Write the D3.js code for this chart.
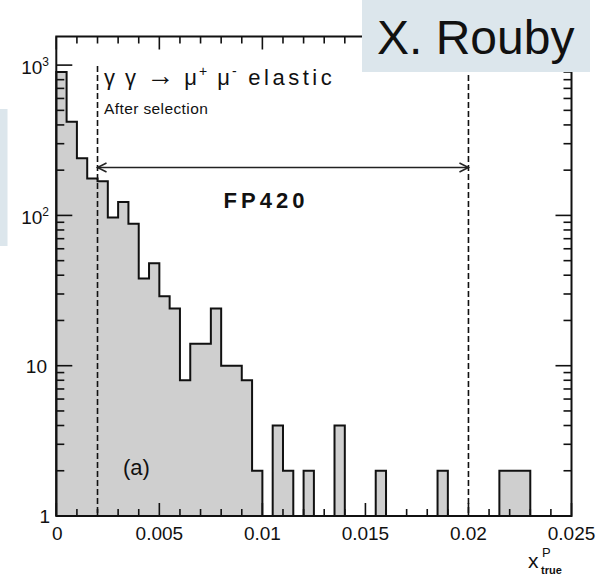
<!DOCTYPE html>
<html>
<head>
<meta charset="utf-8">
<script src="https://cdn.jsdelivr.net/npm/d3@7"></script>
<style>
  html, body { margin: 0; padding: 0; background: #fff; }
  svg { display: block; font-family: "Liberation Sans", Arial, sans-serif; }
</style>
</head>
<body>
<svg id="chart" width="603" height="577"></svg>
<script>
// Histogram of x_true^P, 50 bins of width 0.0005 on [0, 0.025]
const binWidth = 0.0005;
const binCounts = [
  900, 420, 240, 176, 169, 97, 123, 88, 38, 48,
  29, 24, 8, 14, 14, 24, 10, 10, 8, 2,
  0, 4, 2, 0, 2, 0, 0, 4, 0, 0,
  0, 2, 0, 0, 0, 0, 0, 2, 0, 0,
  0, 0, 0, 2, 2, 2, 0, 0, 0, 0
];
const xMajorTicks = [0, 0.005, 0.01, 0.015, 0.02, 0.025];
const xTickLabels = ["0", "0.005", "0.01", "0.015", "0.02", "0.025"];
const yMajorTicks = [1, 10, 100, 1000];
const yTickLabels = [["1", ""], ["10", ""], ["10", "2"], ["10", "3"]];
const selectionWindow = [0.002, 0.02];

const svg = d3.select("#chart");
const plotL = 56.3, plotR = 571.5, plotT = 36.5, plotB = 516;

const x = d3.scaleLinear().domain([0, 0.025]).range([plotL, plotR]);
const y = d3.scaleLog().domain([1, 1550]).range([plotB, plotT]);

// minor ticks
const xMinor = d3.range(0, 26).map(i => i * 0.001).filter(v => !xMajorTicks.some(m => Math.abs(m - v) < 1e-9));
const yMinor = [];
[1, 10, 100, 1000].forEach(d => { for (let k = 2; k <= 9; k++) if (d * k < 1550) yMinor.push(d * k); });

// histogram outline and fill
const pts = [[x(0), plotB]];
binCounts.forEach((c, i) => {
  const yy = c > 0 ? y(c) : plotB;
  pts.push([x(i * binWidth), yy], [x((i + 1) * binWidth), yy]);
});
pts.push([x(binCounts.length * binWidth), plotB]);
const line = d3.line();
svg.append("path").attr("d", line(pts) + "Z").attr("fill", "#cfcfcf").attr("stroke", "none");
svg.append("path").attr("d", line(pts)).attr("fill", "none").attr("stroke", "#111").attr("stroke-width", 2).attr("stroke-linejoin", "miter");

// selection window (dashed)
selectionWindow.forEach(v => {
  svg.append("line").attr("x1", x(v)).attr("x2", x(v)).attr("y1", 66).attr("y2", plotB)
    .attr("stroke", "#111").attr("stroke-width", 1.6).attr("stroke-dasharray", "6,3");
});

// double arrow between the window edges
const ay = 167.5;
const g = svg.append("g").attr("stroke", "#222").attr("stroke-width", 1.5).attr("fill", "none");
g.append("line").attr("x1", x(selectionWindow[0])).attr("x2", x(selectionWindow[1])).attr("y1", ay).attr("y2", ay);
g.append("path").attr("d", `M${x(selectionWindow[0]) + 9},${ay - 4.5}L${x(selectionWindow[0])},${ay}L${x(selectionWindow[0]) + 9},${ay + 4.5}`);
g.append("path").attr("d", `M${x(selectionWindow[1]) - 9},${ay - 4.5}L${x(selectionWindow[1])},${ay}L${x(selectionWindow[1]) - 9},${ay + 4.5}`);

// axes: ticks pointing inward
const axG = svg.append("g").attr("stroke", "#111").attr("stroke-width", 1.6);
function xTicks(vals, len) {
  vals.forEach(v => {
    axG.append("line").attr("x1", x(v)).attr("x2", x(v)).attr("y1", plotB).attr("y2", plotB - len);
    axG.append("line").attr("x1", x(v)).attr("x2", x(v)).attr("y1", plotT).attr("y2", plotT + len);
  });
}
function yTicks(vals, len) {
  vals.forEach(v => {
    axG.append("line").attr("x1", plotL).attr("x2", plotL + len).attr("y1", y(v)).attr("y2", y(v));
    axG.append("line").attr("x1", plotR).attr("x2", plotR - len).attr("y1", y(v)).attr("y2", y(v));
  });
}
xTicks(xMinor, 7);
xTicks(xMajorTicks, 13);
yTicks(yMinor, 8);
yTicks(yMajorTicks, 16);
svg.append("rect").attr("x", plotL).attr("y", plotT).attr("width", plotR - plotL).attr("height", plotB - plotT)
  .attr("fill", "none").attr("stroke", "#111").attr("stroke-width", 2);

// tick labels
xMajorTicks.forEach((v, i) => {
  svg.append("text").attr("x", x(v) + (i === 0 ? 1 : 0)).attr("y", 540).attr("text-anchor", "middle")
    .attr("font-size", 19).attr("fill", "#111").text(xTickLabels[i]);
});
yMajorTicks.forEach((v, i) => {
  const [base, exp] = yTickLabels[i];
  const t = svg.append("text").attr("y", y(v) + 7 + (exp ? 2 : 0)).attr("font-size", 19).attr("fill", "#111")
    .attr("text-anchor", "end").attr("x", exp ? 49 : (base === "1" ? 50 : 47));
  t.append("tspan").text(base);
  if (exp) t.append("tspan").attr("dy", -8).attr("font-size", 12).text(exp);
});

// axis title x^P_true
const xt = svg.append("text").attr("x", 528).attr("y", 568).attr("font-size", 21).attr("fill", "#111");
xt.append("tspan").text("x");
xt.append("tspan").attr("x", 542).attr("y", 557).attr("font-size", 13).text("P");
xt.append("tspan").attr("x", 541).attr("y", 574).attr("font-size", 11).attr("font-weight", "bold").text("true");

// annotations
const proc = svg.append("text").attr("x", 104).attr("y", 85).attr("font-size", 22)
  .attr("letter-spacing", 2).attr("fill", "#111");
proc.append("tspan").text("γ γ ");
proc.append("tspan").attr("font-size", 28).text("→");
proc.append("tspan").text(" μ");
proc.append("tspan").attr("dy", -9).attr("font-size", 14).text("+");
proc.append("tspan").attr("dy", 9).text(" μ");
proc.append("tspan").attr("dy", -9).attr("font-size", 14).text("-");
proc.append("tspan").attr("dy", 9).attr("letter-spacing", 3.5).text(" elastic");
svg.append("text").attr("x", 104).attr("y", 114).attr("font-size", 15.5).attr("letter-spacing", 0.4)
  .attr("fill", "#111").text("After selection");
svg.append("text").attr("x", 266).attr("y", 208).attr("text-anchor", "middle").attr("font-size", 22)
  .attr("font-weight", "bold").attr("letter-spacing", 4).attr("fill", "#111").text("FP420");
svg.append("text").attr("x", 123).attr("y", 475).attr("font-size", 22).attr("fill", "#111").text("(a)");

// author box and side panel
svg.append("rect").attr("x", 362).attr("y", 0).attr("width", 228).attr("height", 72).attr("fill", "#dce6ec");
svg.append("text").attr("x", 377).attr("y", 54).attr("font-size", 48).attr("fill", "#111").text("X. Rouby");
svg.append("rect").attr("x", 0).attr("y", 109).attr("width", 7.5).attr("height", 137).attr("fill", "#dce6ec");
</script>
</body>
</html>
